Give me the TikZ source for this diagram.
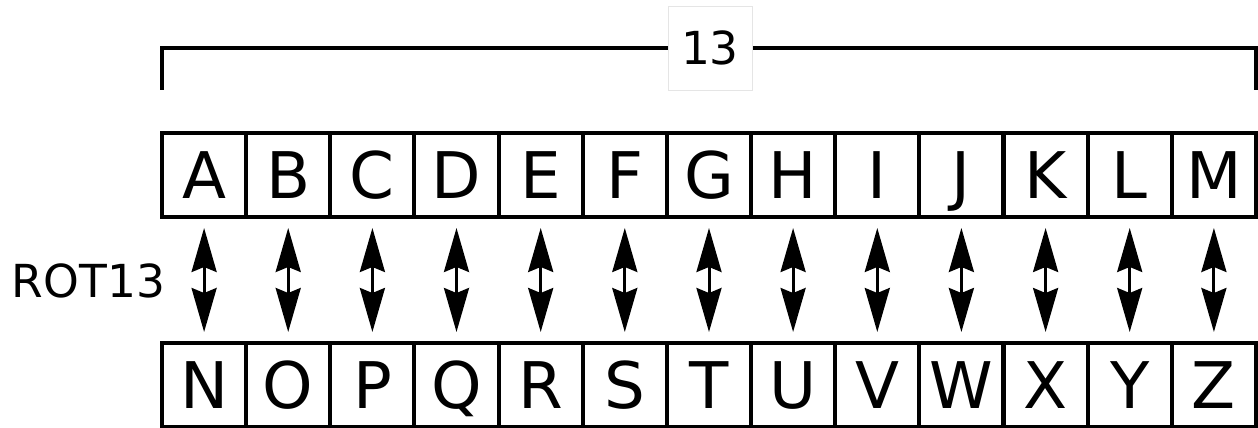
\documentclass[tikz,border=0pt]{standalone}
\usepackage{fontspec}
\setmainfont{DejaVu Sans}
\usetikzlibrary{arrows.meta}

\begin{document}
\begin{tikzpicture}[x=0.02cm, y=-0.02cm,
    cell/.style ={draw, line width=0.08cm, minimum width=1.683cm, minimum height=1.68cm, inner sep=0pt,
                  text height=0.94cm, text depth=0pt, font=\fontsize{36.6}{40}\selectfont},
    pair/.style ={line width=0.06cm, {Stealth[length=0.88cm,width=0.5cm,inset=0.1cm]}-{Stealth[length=0.88cm,width=0.5cm,inset=0.1cm]},
                  shorten <=0.18cm, shorten >=0.18cm}]
   \useasboundingbox (0,0) rectangle (1258,428);

   % plain letters
   \node[cell] (A) at (204.1,175) {A};
   \node[cell] (B) at (288.2,175) {B};
   \node[cell] (C) at (372.4,175) {C};
   \node[cell] (D) at (456.5,175) {D};
   \node[cell] (E) at (540.7,175) {E};
   \node[cell] (F) at (624.8,175) {F};
   \node[cell] (G) at (709.0,175) {G};
   \node[cell] (H) at (793.1,175) {H};
   \node[cell] (I) at (877.3,175) {I};
   \node[cell] (J) at (961.4,175) {J};
   \node[cell] (K) at (1045.6,175) {K};
   \node[cell] (L) at (1129.7,175) {L};
   \node[cell] (M) at (1213.9,175) {M};

   % rotated letters
   \node[cell] (N) at (204.1,385) {N};
   \node[cell] (O) at (288.2,385) {O};
   \node[cell] (P) at (372.4,385) {P};
   \node[cell] (Q) at (456.5,385) {Q};
   \node[cell] (R) at (540.7,385) {R};
   \node[cell] (S) at (624.8,385) {S};
   \node[cell] (T) at (709.0,385) {T};
   \node[cell] (U) at (793.1,385) {U};
   \node[cell] (V) at (877.3,385) {V};
   \node[cell] (W) at (961.4,385) {W};
   \node[cell] (X) at (1045.6,385) {X};
   \node[cell] (Y) at (1129.7,385) {Y};
   \node[cell] (Z) at (1213.9,385) {Z};

   \draw[pair] (A) to (N);
   \draw[pair] (B) to (O);
   \draw[pair] (C) to (P);
   \draw[pair] (D) to (Q);
   \draw[pair] (E) to (R);
   \draw[pair] (F) to (S);
   \draw[pair] (G) to (T);
   \draw[pair] (H) to (U);
   \draw[pair] (I) to (V);
   \draw[pair] (J) to (W);
   \draw[pair] (K) to (X);
   \draw[pair] (L) to (Y);
   \draw[pair] (M) to (Z);

   \node (rot) at (88.5,280.5) {\fontsize{25.9}{30}\selectfont ROT13};

   % bracket over the first 13 letters
   \coordinate (bl) at (162,90);
   \coordinate (br) at (1256,90);
   \draw[line width=0.08cm] (bl) -- ++(0,-42) -| (br);
   \node[fill=white, draw=black!10, line width=0.4pt, minimum size=1.68cm, inner sep=0pt,
         font=\fontsize{25.9}{30}\selectfont] (shift) at (710,48) {13};
 \end{tikzpicture}
\end{document}
